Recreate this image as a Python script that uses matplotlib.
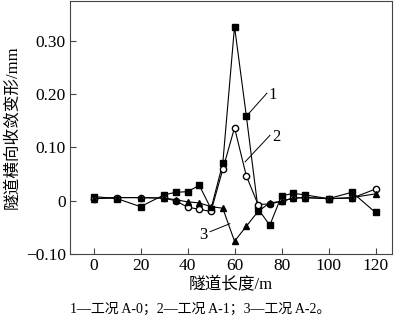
import matplotlib
matplotlib.use("Agg")
import matplotlib.pyplot as plt

plt.rcParams["font.family"] = ["Liberation Serif", "Noto Sans CJK SC"]

# tunnel length positions (m)
length = [0, 10, 20, 30, 35, 40, 45, 50, 55, 60, 65, 70, 75, 80, 85, 90, 100, 110, 120]

# transverse convergence (mm) for each case
case_a0 = [0.008, 0.004, -0.011, 0.011, 0.016, 0.017, 0.029, -0.015, 0.070, 0.327, 0.160,
           -0.015, -0.046, 0.009, 0.014, 0.011, 0.004, 0.016, -0.022]
case_a1 = [0.004, 0.006, 0.006, 0.005, 0.000, -0.012, -0.016, -0.020, 0.059, 0.137, 0.047,
           -0.007, -0.006, -0.001, 0.005, 0.006, 0.004, 0.005, 0.022]
case_a2 = [0.004, 0.006, 0.006, 0.005, 0.002, -0.002, -0.004, -0.011, -0.014, -0.076, -0.048,
           -0.020, -0.004, -0.001, 0.005, 0.006, 0.004, 0.006, 0.013]

xticks = [0, 20, 40, 60, 80, 100, 120]
yticks = [-0.10, 0, 0.10, 0.20, 0.30]
ytick_labels = ["\u22120.10", "0", "0.10", "0.20", "0.30"]

fig = plt.figure(figsize=(4.0, 3.22), dpi=100)
ax = fig.add_axes([0.175, 0.211, 0.805, 0.786])

style = dict(color="black", linewidth=0.8, markersize=4.5)
ax.plot(length, case_a0, marker="s", markerfacecolor="black", **style)
ax.plot(length, case_a1, marker="o", markerfacecolor="white", **style)
ax.plot(length, case_a2, marker="^", markerfacecolor="black", **style)

# curve labels with leader lines
ax.plot([65.3, 73.8], [0.160, 0.202], color="black", linewidth=0.7)
ax.text(74.5, 0.198, "1", fontsize=12, ha="left", va="center")
ax.plot([64.5, 75.1], [0.073, 0.123], color="black", linewidth=0.7)
ax.text(76.0, 0.120, "2", fontsize=12, ha="left", va="center")
ax.plot([49.6, 58.0], [-0.058, -0.043], color="black", linewidth=0.7)
ax.text(48.5, -0.065, "3", fontsize=12, ha="right", va="center")

ax.set_xlim(-10, 127)
ax.set_ylim(-0.10, 0.375)
ax.set_xticks(xticks)
ax.set_yticks(yticks)
ax.set_yticklabels(ytick_labels)
ax.tick_params(direction="in", length=4, width=0.8, labelsize=12.5, pad=3,
               color="#444444")
for sp in ax.spines.values():
    sp.set_linewidth(0.8)
    sp.set_color("#444444")

ax.set_xlabel("隧道长度/m", fontsize=12, labelpad=2)
ax.set_ylabel("隧道横向收敛变形/mm", fontsize=12, labelpad=4)

fig.text(0.5, 0.04, "1—工况 A-0；2—工况 A-1；3—工况 A-2。", fontsize=10,
         ha="center", va="center")

fig.savefig("out.png", dpi=100)
